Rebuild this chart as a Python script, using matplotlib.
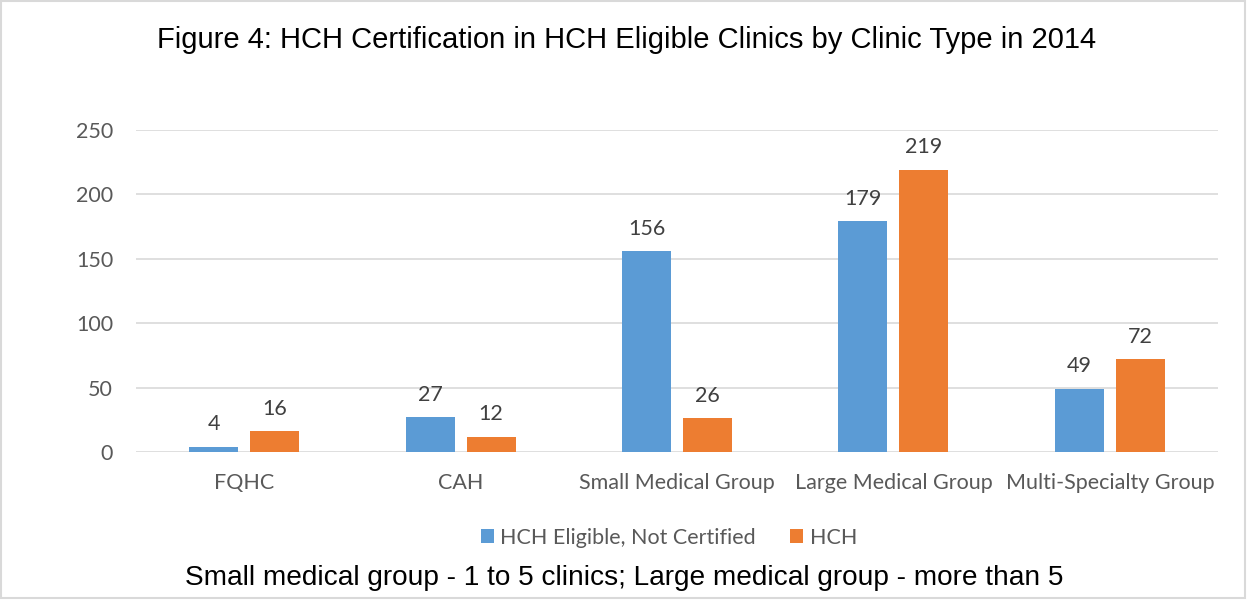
import matplotlib.pyplot as plt
import numpy as np
from matplotlib.patches import Rectangle

categories = ["FQHC", "CAH", "Small Medical Group", "Large Medical Group", "Multi-Specialty Group"]
not_certified = [4, 27, 156, 179, 49]
hch = [16, 12, 26, 219, 72]
series_names = ["HCH Eligible, Not Certified", "HCH"]

blue = "#5B9BD5"
orange = "#ED7D31"
grey_txt = "#595959"
fsz = 15.5

fig = plt.figure(figsize=(12.49, 6), dpi=100)
ax = fig.add_axes([0.1089, 0.2467, 0.8663, 0.5366])

x = np.arange(len(categories))
w = 0.226
off = 0.141
b1 = ax.bar(x - off, not_certified, w, color=blue, label=series_names[0], zorder=3)
b2 = ax.bar(x + off, hch, w, color=orange, label=series_names[1], zorder=3)

# value labels above each bar
for bars in (b1, b2):
    for r in bars:
        ax.annotate(f"{int(r.get_height())}", (r.get_x() + r.get_width() / 2, r.get_height()),
                    xytext=(0, 9), textcoords="offset points", ha="center", va="bottom",
                    fontsize=fsz, color="#404040", family="Lato")

ax.set_xlim(-0.5, len(categories) - 0.5)
ax.set_ylim(0, 250)
ax.set_yticks(range(0, 251, 50))
ax.set_xticks(x)
ax.set_xticklabels(categories)
ax.yaxis.grid(True, color="#D9D9D9", linewidth=1.2, zorder=0)
for s in ax.spines.values():
    s.set_visible(False)
ax.tick_params(length=0, labelsize=fsz, labelcolor=grey_txt, pad=15)
ax.tick_params(axis="y", pad=16.5)
for lab in ax.get_xticklabels() + ax.get_yticklabels():
    lab.set_family("Lato")

fig.text(0.502, 0.933, "Figure 4: HCH Certification in HCH Eligible Clinics by Clinic Type in 2014",
         ha="center", va="center", fontsize=21, family="Liberation Sans")
fig.text(0.500, 0.037, "Small medical group - 1 to 5 clinics; Large medical group - more than 5",
         ha="center", va="center", fontsize=20.2, family="Liberation Sans")

leg = fig.legend(loc="center", bbox_to_anchor=(0.5355, 0.104), ncol=2, frameon=False,
                 handlelength=0.6, handleheight=0.6, handletextpad=0.3, columnspacing=1.6,
                 prop={"family": "Lato", "size": fsz})
for t in leg.get_texts():
    t.set_color(grey_txt)

# light frame around the whole chart
fig.add_artist(Rectangle((0.001, 0.003), 0.996, 0.995, transform=fig.transFigure,
                         fill=False, edgecolor="#D9D9D9", linewidth=1.5))

fig.savefig("out.png", dpi=100)
